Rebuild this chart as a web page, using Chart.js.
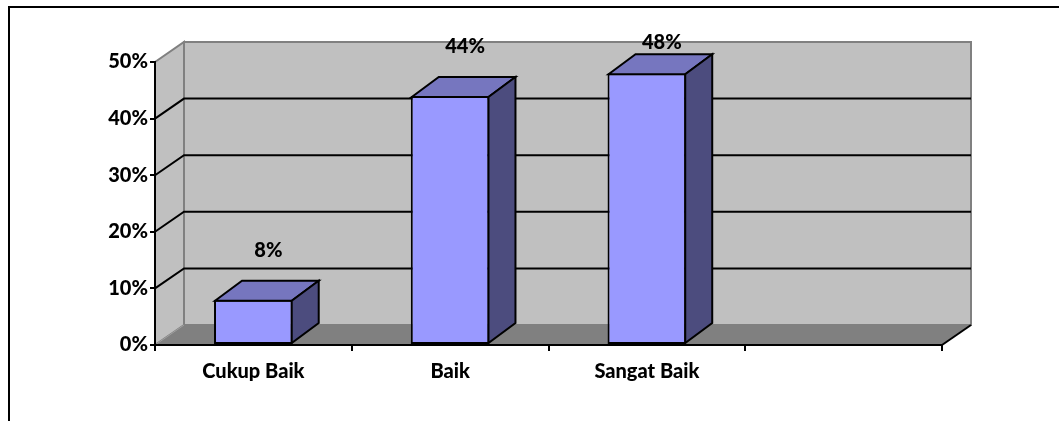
<!doctype html>
<html lang="id">
<head>
  <meta charset="utf-8">
  <title>Cukup Baik / Baik / Sangat Baik</title>
  <style>
    html, body { margin: 0; padding: 0; background: #fff; }
    #wrap { position: relative; width: 1059px; height: 421px; }
    #frame { position: absolute; left: 8px; top: 6px; right: 0; bottom: -4px; border-left: 2px solid #000; border-top: 2px solid #000; }
    canvas { position: absolute; left: 0; top: 0; }
  </style>
</head>
<body>
<div id="wrap">
  <div id="frame"></div>
  <canvas id="chart" width="1059" height="421"></canvas>
</div>

<script src="https://cdn.jsdelivr.net/npm/chart.js@4"></script>
<script>
  const categories = ['Cukup Baik', 'Baik', 'Sangat Baik', '']
  const values = [8, 44, 48, null]
  const yTicks = [0, 10, 20, 30, 40, 50]

  // offsets for the fake 3d look
  const WALL_DX = 29, WALL_DY = 20
  const BAR_DX = 27, BAR_DY = 20
  const FONT = 'Lato, "Liberation Sans", sans-serif'
  const WEIGHT = 900

  function poly(ctx, pts, fill, stroke, lw) {
    ctx.beginPath()
    ctx.moveTo(pts[0][0], pts[0][1])
    for (let i = 1; i < pts.length; i++) ctx.lineTo(pts[i][0], pts[i][1])
    ctx.closePath()
    if (fill) { ctx.fillStyle = fill; ctx.fill() }
    if (stroke) { ctx.strokeStyle = stroke; ctx.lineWidth = lw || 1; ctx.stroke() }
  }

  const walls = {
    id: 'walls',
    beforeDraw(chart) {
      const { ctx, chartArea: a, scales: { y } } = chart
      const L = a.left, R = a.right, T = a.top, B = a.bottom
      ctx.save()
      ctx.lineJoin = 'miter'
      // left side wall
      poly(ctx, [[L, T], [L + WALL_DX, T - WALL_DY], [L + WALL_DX, B - WALL_DY], [L, B]], '#c0c0c0', '#808080', 2)
      // back wall
      poly(ctx, [[L + WALL_DX, T - WALL_DY], [R + WALL_DX, T - WALL_DY], [R + WALL_DX, B - WALL_DY], [L + WALL_DX, B - WALL_DY]], '#c0c0c0', '#808080', 2)
      // floor
      poly(ctx, [[L, B], [L + WALL_DX, B - WALL_DY], [R + WALL_DX, B - WALL_DY], [R, B]], '#808080')
      // side wall bottom edge
      ctx.strokeStyle = '#a0a0a0'
      ctx.lineWidth = 1
      ctx.beginPath(); ctx.moveTo(L, B); ctx.lineTo(L + WALL_DX, B - WALL_DY); ctx.stroke()
      // gridlines
      ctx.strokeStyle = '#000'
      ctx.lineWidth = 2
      for (const v of yTicks) {
        if (v === 0 || v === 50) continue
        const py = y.getPixelForValue(v)
        ctx.beginPath()
        ctx.moveTo(L, py)
        ctx.lineTo(L + WALL_DX, py - WALL_DY)
        ctx.lineTo(R + WALL_DX, py - WALL_DY)
        ctx.stroke()
      }
      // floor right edge
      ctx.beginPath(); ctx.moveTo(R, B); ctx.lineTo(R + WALL_DX, B - WALL_DY); ctx.stroke()
      ctx.restore()
    }
  }

  const bars3d = {
    id: 'bars3d',
    afterDatasetsDraw(chart) {
      const { ctx, scales: { y } } = chart
      const meta = chart.getDatasetMeta(0)
      ctx.save()
      ctx.lineJoin = 'miter'
      meta.data.forEach((bar, i) => {
        if (values[i] == null) return
        const p = bar.getProps(['x', 'y', 'base', 'width'], true)
        const x1 = p.x - p.width / 2 + 1, x2 = p.x + p.width / 2 - 1
        const yt = p.y + 1, yb = p.base - 1
        // top face
        poly(ctx, [[x1, yt], [x1 + BAR_DX, yt - BAR_DY], [x2 + BAR_DX, yt - BAR_DY], [x2, yt]], '#7676bf', '#000', 2)
        // side face
        poly(ctx, [[x2, yt], [x2 + BAR_DX, yt - BAR_DY], [x2 + BAR_DX, yb - BAR_DY], [x2, yb]], '#4c4c7e', '#000', 2)
        // value label
        ctx.fillStyle = '#000'
        ctx.font = WEIGHT + ' 20px ' + FONT
        ctx.textAlign = 'center'
        ctx.textBaseline = 'middle'
        const ly = Math.max(p.y - BAR_DY - 29, y.top - 19)
        ctx.fillText(values[i] + '%', p.x + 15, ly)
      })
      ctx.restore()
    }
  }

  new Chart(document.getElementById('chart'), {
    type: 'bar',
    data: {
      labels: categories,
      datasets: [{
        data: values,
        backgroundColor: '#9999ff',
        borderColor: '#000',
        borderWidth: 2,
        borderSkipped: false,
        categoryPercentage: 1,
        barPercentage: 0.4
      }]
    },
    options: {
      responsive: false,
      animation: false,
      layout: { padding: { top: 62, right: 117, left: 0, bottom: 0 } },
      plugins: { legend: { display: false }, tooltip: { enabled: false } },
      scales: {
        x: {
          afterFit: s => { s.height = 76 },
          grid: { offset: true, drawOnChartArea: false, color: '#000', lineWidth: 2, tickLength: 6 },
          border: { display: true, color: '#000', width: 2 },
          ticks: { color: '#000', padding: 9, font: { family: FONT, size: 20, weight: WEIGHT } }
        },
        y: {
          min: 0,
          max: 50,
          afterFit: s => { s.width = 155 },
          afterBuildTicks: s => { s.ticks = yTicks.map(v => ({ value: v })) },
          grid: { drawOnChartArea: false, color: '#000', lineWidth: 2, tickLength: 5 },
          border: { display: true, color: '#000', width: 2 },
          ticks: {
            color: '#000',
            padding: 2,
            font: { family: FONT, size: 20, weight: WEIGHT },
            callback: v => v + '%'
          }
        }
      }
    },
    plugins: [walls, bars3d]
  })
</script>
</body>
</html>
